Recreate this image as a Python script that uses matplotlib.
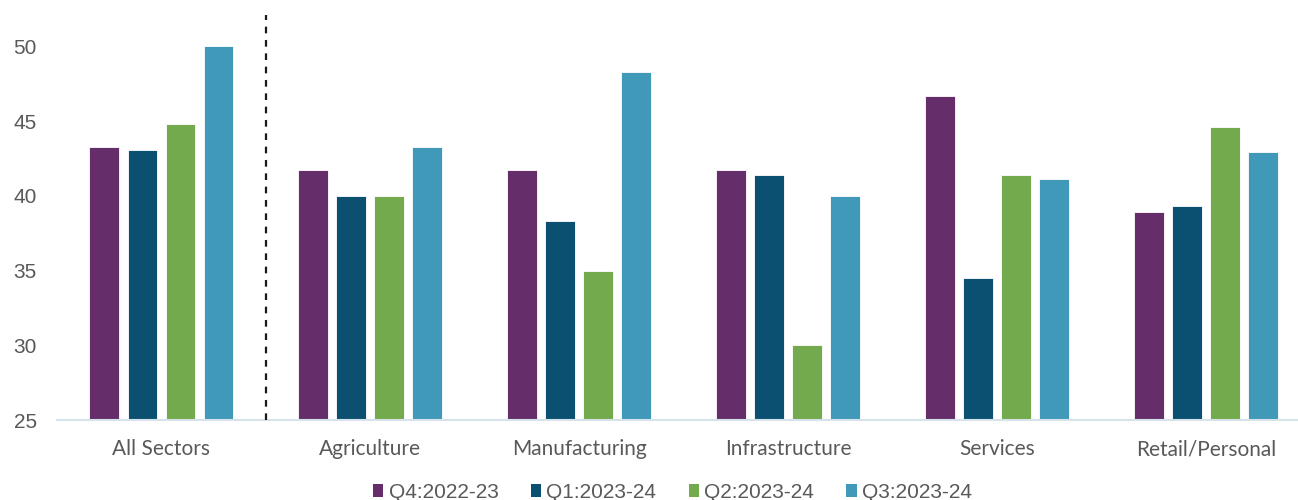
import numpy as np
from matplotlib import pyplot as plt
from matplotlib.patches import Patch

# sectors on the x axis
sectors = ["All Sectors", "Agriculture", "Manufacturing", "Infrastructure", "Services", "Retail/Personal"]

# one list per quarter
quarters = ["Q4:2022-23", "Q1:2023-24", "Q2:2023-24", "Q3:2023-24"]
q4_2022_23 = [43.3, 41.7, 41.7, 41.7, 46.7, 38.9]
q1_2023_24 = [43.1, 40.0, 38.3, 41.4, 34.5, 39.3]
q2_2023_24 = [44.8, 40.0, 35.0, 30.0, 41.4, 44.6]
q3_2023_24 = [50.0, 43.3, 48.3, 40.0, 41.1, 42.9]

y_ticks = [25, 30, 35, 40, 45, 50]

COLORS = ["#662D6B", "#0B5070", "#73AA4D", "#4099B8"]
GRAY = "#595959"


def main():
    fig = plt.figure(figsize=(12.98, 5.0), dpi=100)
    ax = fig.add_axes([57 / 1298, 80 / 500, 1 - 57 / 1298, 405 / 500])

    x = np.arange(len(sectors))
    series = [q4_2022_23, q1_2023_24, q2_2023_24, q3_2023_24]
    width = 0.143
    step = 0.182
    for i, vals in enumerate(series):
        offset = (i - 1.5) * step
        ax.bar(x + offset, np.array(vals) - 25, width, bottom=25,
               color=COLORS[i], edgecolor="white", linewidth=0.6, zorder=2)

    # divider between the total and the sectors
    ax.axvline(0.5, color="#1a1a1a", linestyle=(0, (3, 3)), linewidth=1.6, zorder=3)

    ax.set_xlim(-0.5, 5.44)
    ax.set_ylim(25, 52.1)
    ax.set_yticks(y_ticks)
    ax.set_yticklabels([str(t) for t in y_ticks], fontsize=15, color=GRAY,
                       family="Liberation Sans")
    ax.set_xticks(x)
    ax.set_xticklabels(sectors, fontsize=15, color=GRAY, family="Lato")
    ax.tick_params(axis="both", length=0)
    ax.tick_params(axis="x", pad=14)
    ax.tick_params(axis="y", pad=0)
    for lbl in ax.get_yticklabels():
        lbl.set_horizontalalignment("left")
        lbl.set_x(-0.035)

    for side in ["left", "right", "top"]:
        ax.spines[side].set_visible(False)
    ax.spines["bottom"].set_color("#D6E3EA")
    ax.spines["bottom"].set_linewidth(1.5)

    handles = [Patch(facecolor=c, edgecolor="none") for c in COLORS]
    ax.legend(handles, quarters, loc="center", bbox_to_anchor=(0.496, -0.178),
              ncol=4, frameon=False, handlelength=0.5, handleheight=0.6,
              handletextpad=0.25, columnspacing=1.55,
              prop={"family": "Liberation Sans", "size": 15}, labelcolor=GRAY)

    fig.savefig("out.png", dpi=100)


if __name__ == "__main__":
    main()
